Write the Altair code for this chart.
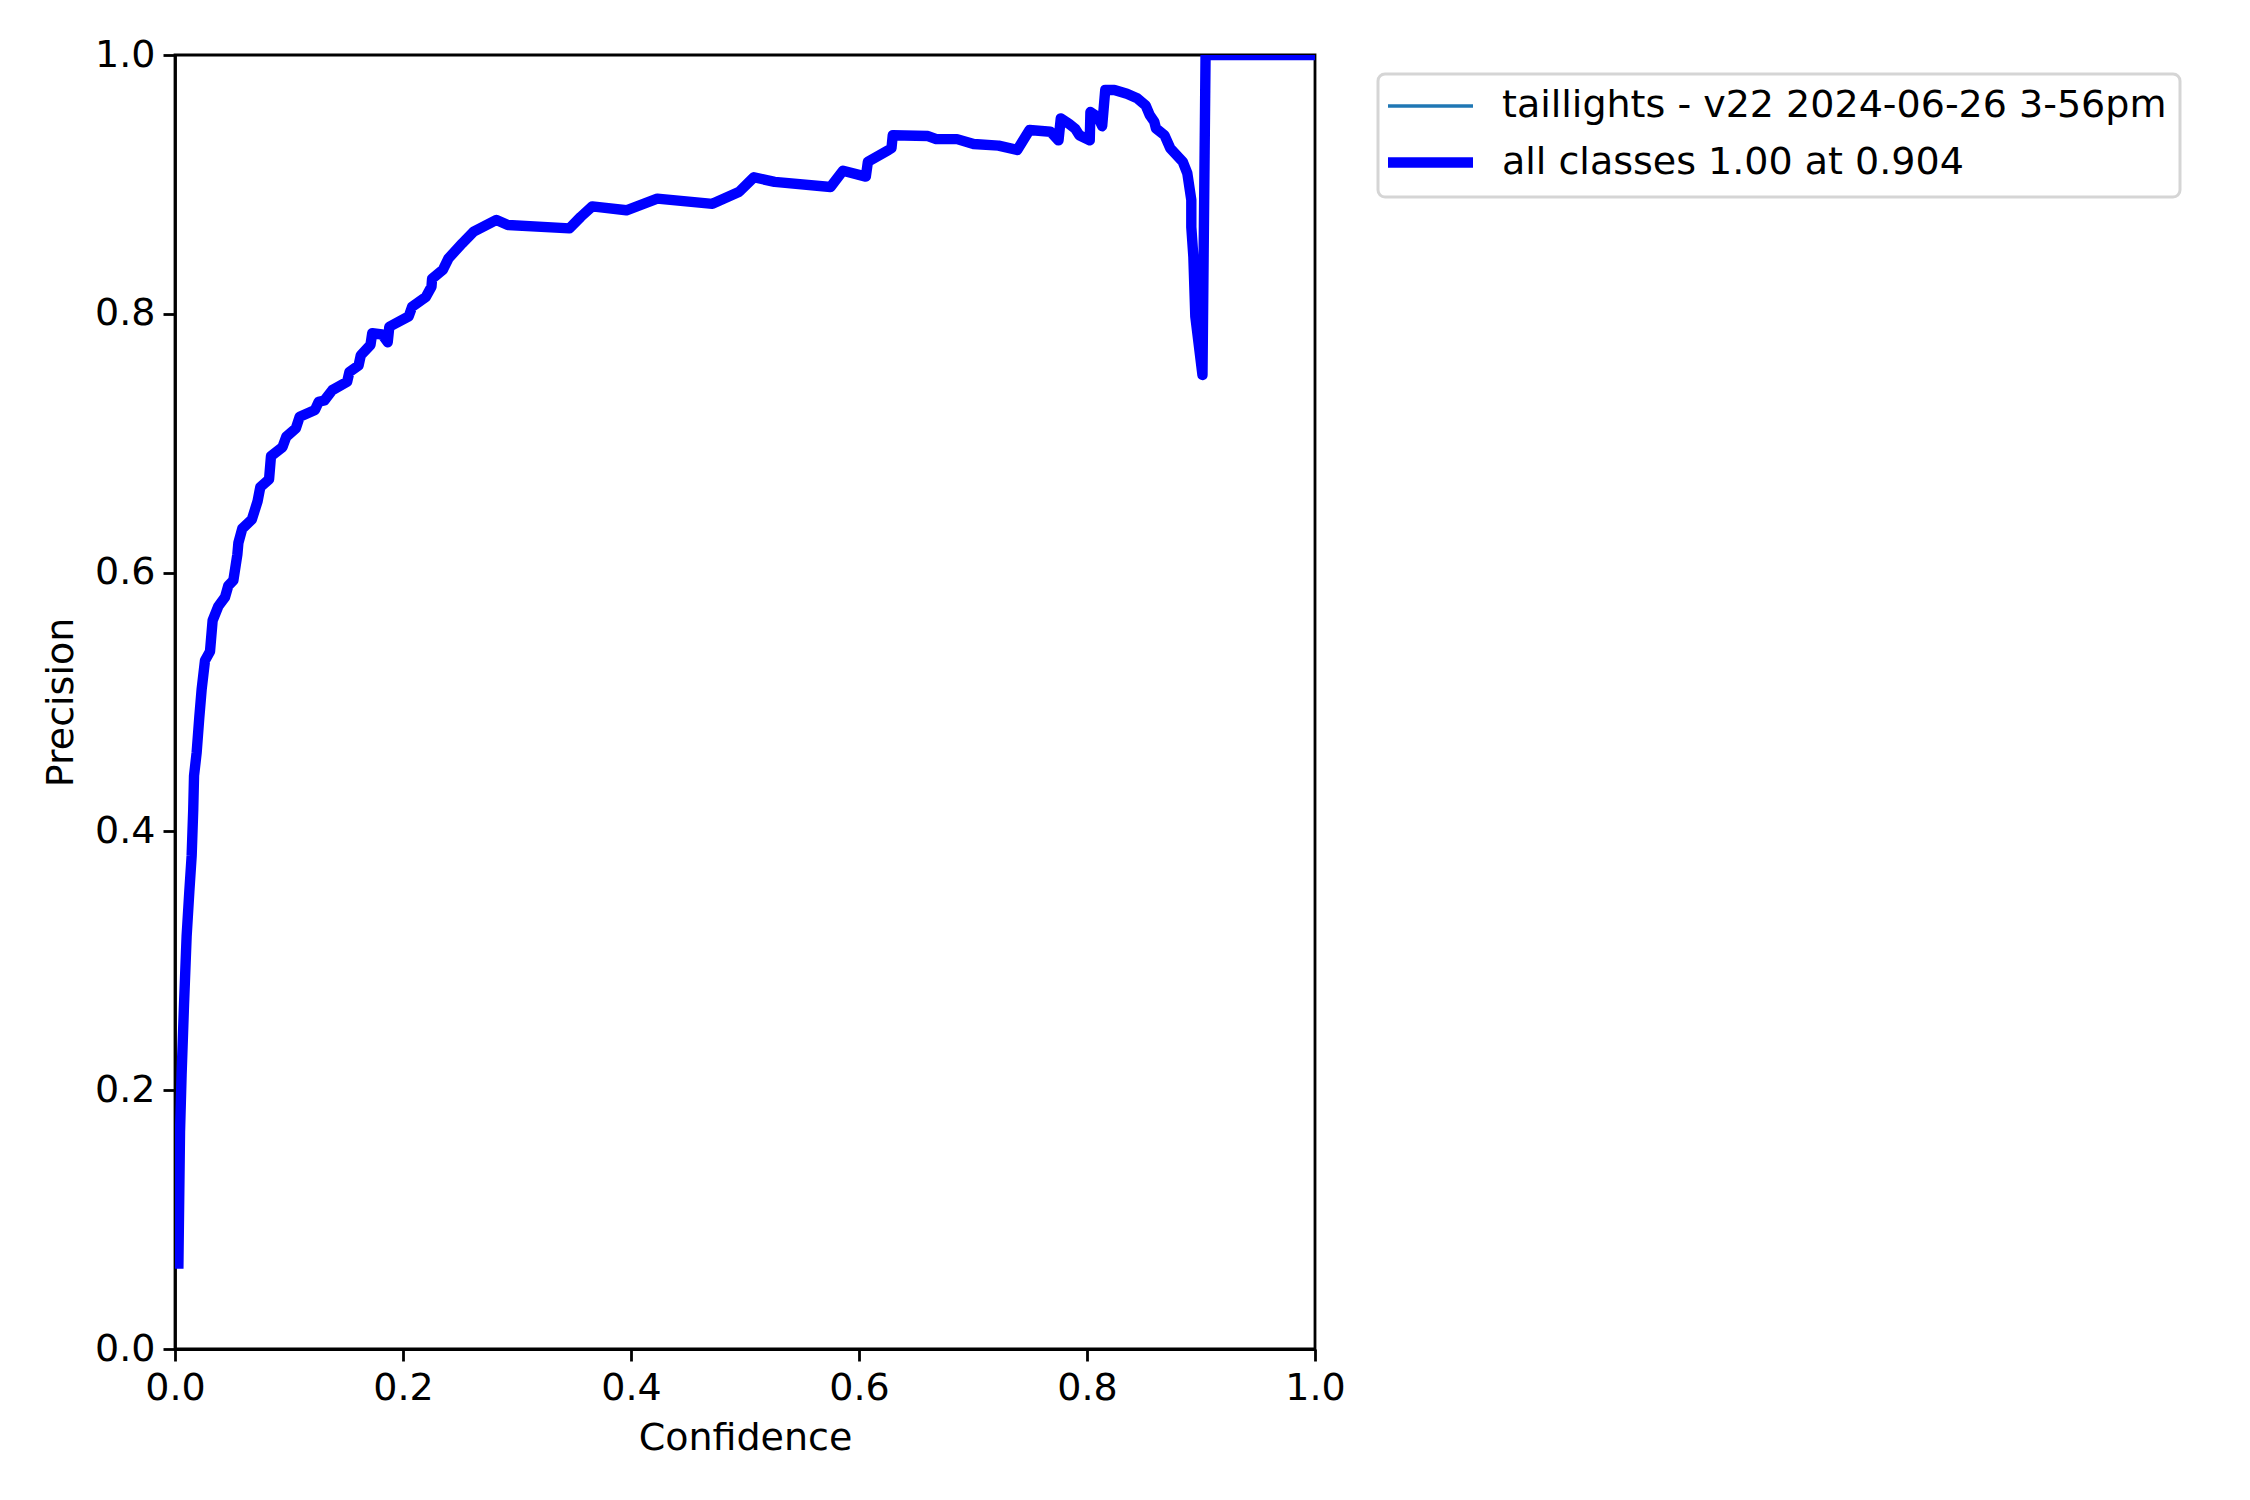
import altair as alt
import pandas as pd

# ---- data ----
confidence = [
    0.0030, 0.0044, 0.0058, 0.0079, 0.0102, 0.0126, 0.0146, 0.0160, 0.0167, 0.0190,
    0.0213, 0.0234, 0.0263, 0.0307, 0.0330, 0.0380, 0.0439, 0.0468, 0.0512, 0.0547,
    0.0556, 0.0590, 0.0674, 0.0724, 0.0748, 0.0825, 0.0842, 0.0943, 0.0976, 0.1060,
    0.1094, 0.1228, 0.1260, 0.1310, 0.1380, 0.1510, 0.1530, 0.1610, 0.1630, 0.1715,
    0.1730, 0.1816, 0.1866, 0.1880, 0.2050, 0.2080, 0.2200, 0.2250, 0.2255, 0.2350,
    0.2400, 0.2520, 0.2620, 0.2820, 0.2920, 0.3460, 0.3560, 0.3660, 0.3960, 0.4230,
    0.4714, 0.4950, 0.5078, 0.5260, 0.5750, 0.5860, 0.6060, 0.6078, 0.6260, 0.6285,
    0.6296, 0.6605, 0.6678, 0.6860, 0.7005, 0.7224, 0.7388, 0.7496, 0.7680, 0.7750,
    0.7770, 0.7840, 0.7897, 0.7933, 0.8024, 0.8030, 0.8096, 0.8133, 0.8160, 0.8240,
    0.8350, 0.8440, 0.8515, 0.8550, 0.8590, 0.8605, 0.8680, 0.8730, 0.8840, 0.8880,
    0.8915, 0.8915, 0.8933, 0.8950, 0.9013, 0.9040, 1.0000,
]
precision = [
    0.066, 0.168, 0.2125, 0.266, 0.319, 0.354, 0.381, 0.417, 0.443, 0.461,
    0.488, 0.510, 0.532, 0.539, 0.563, 0.574, 0.581, 0.590, 0.594, 0.614,
    0.623, 0.634, 0.641, 0.655, 0.666, 0.672, 0.690, 0.697, 0.705, 0.7115,
    0.7205, 0.7257, 0.732, 0.733, 0.741, 0.7475, 0.755, 0.760, 0.768, 0.776,
    0.785, 0.784, 0.778, 0.790, 0.798, 0.8055, 0.813, 0.821, 0.827, 0.834,
    0.843, 0.8545, 0.8635, 0.8725, 0.8686, 0.866, 0.875, 0.883, 0.880, 0.889,
    0.885, 0.8944, 0.9055, 0.902, 0.898, 0.9106, 0.906, 0.9175, 0.9266, 0.928,
    0.938, 0.9374, 0.935, 0.935, 0.9312, 0.930, 0.9266, 0.942, 0.9407, 0.934,
    0.951, 0.947, 0.943, 0.938, 0.934, 0.956, 0.952, 0.945, 0.973, 0.973,
    0.970, 0.9665, 0.961, 0.9536, 0.9485, 0.9433, 0.938, 0.928, 0.9175, 0.9086,
    0.888, 0.867, 0.844, 0.798, 0.7527, 1.000, 1.000,
]
series_names = ["taillights - v22 2024-06-26 3-56pm", "all classes 1.00 at 0.904"]
series_colors = ["#1f77b4", "#0000ff"]
series_widths = [3.5, 10.4]
tick_values = [0.0, 0.2, 0.4, 0.6, 0.8, 1.0]

rows = []
for name in series_names:
    for i, (c, p) in enumerate(zip(confidence, precision)):
        rows.append({"series": name, "idx": i, "Confidence": c, "Precision": p})
df = pd.DataFrame(rows)

FONT = "DejaVu Sans"
FS = 38

legend = alt.Legend(
    title=None,
    orient="none",
    legendX=1203,
    legendY=19,
    symbolType="M-2.5,0H2.5",
    symbolSize=1156,
    symbolOffset=17,
    labelOffset=49,
    labelFont=FONT,
    labelFontSize=FS,
    labelColor="black",
    labelLimit=2000,
    fillColor="white",
    strokeColor="#d5d5d5",
    cornerRadius=7,
    padding=13,
    rowPadding=15,
)

chart = (
    alt.Chart(df)
    .mark_line(clip=True, strokeCap="square", strokeJoin="round")
    .encode(
        x=alt.X(
            "Confidence:Q",
            scale=alt.Scale(domain=[0, 1], nice=False, zero=False),
            axis=alt.Axis(values=tick_values, format=".1f", title="Confidence",
                          titlePadding=12),
        ),
        y=alt.Y(
            "Precision:Q",
            scale=alt.Scale(domain=[0, 1], nice=False, zero=False),
            axis=alt.Axis(values=tick_values, format=".1f", title="Precision",
                          titlePadding=14),
        ),
        color=alt.Color(
            "series:N",
            scale=alt.Scale(domain=series_names, range=series_colors),
            legend=legend,
        ),
        strokeWidth=alt.StrokeWidth(
            "series:N",
            scale=alt.Scale(domain=series_names, range=series_widths),
            legend=legend,
        ),
        order=alt.Order("idx:Q"),
    )
    .properties(
        width=1140,
        height=1294,
        padding={"left": 167, "top": 47, "right": 927, "bottom": 143},
        autosize=alt.AutoSizeParams(type="none"),
    )
    .configure_view(stroke="black", strokeWidth=2.8)
    .configure_axis(
        domainColor="black",
        domainWidth=2.8,
        tickColor="black",
        tickWidth=2.8,
        tickSize=12,
        labelFont=FONT,
        labelFontSize=FS,
        labelColor="black",
        labelPadding=8,
        labelFlush=False,
        labelOverlap=False,
        titleFont=FONT,
        titleFontSize=FS,
        titleFontWeight="normal",
        titleColor="black",
        grid=False,
    )
    .configure_legend(strokeWidth=3)
)

chart.save("out.html", embed_options={"renderer": "svg", "actions": False})
